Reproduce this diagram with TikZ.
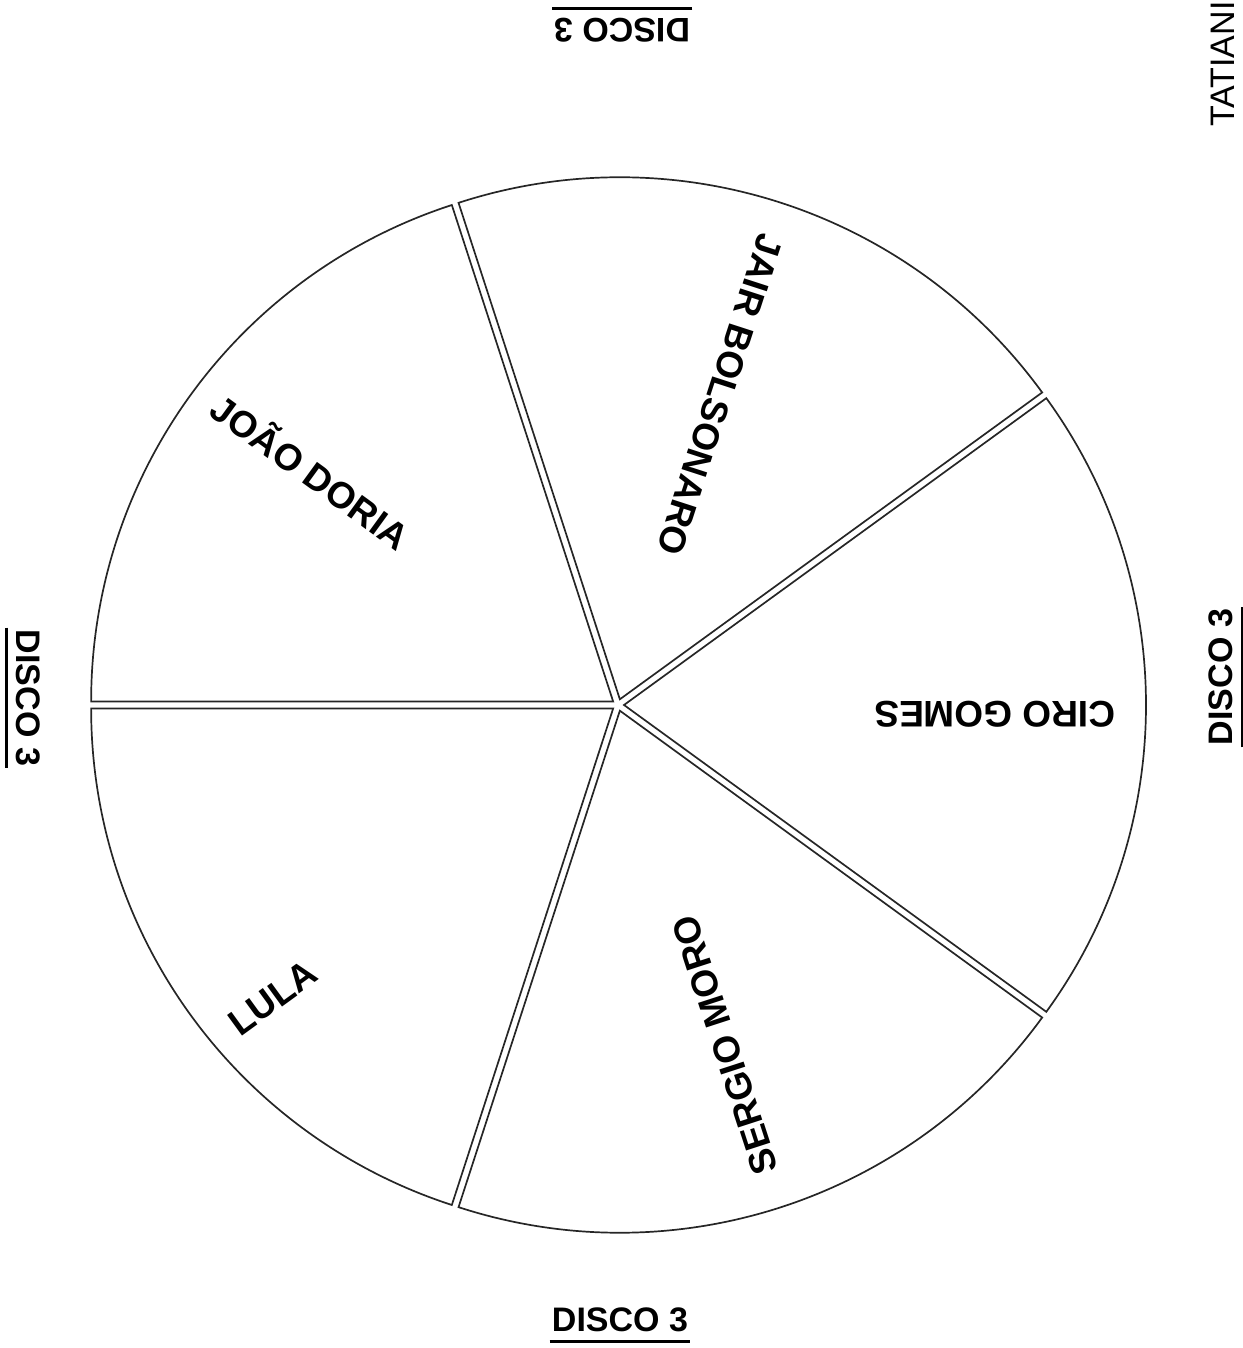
\documentclass[tikz,border=0pt]{standalone}
\usepackage{fontspec}
\setmainfont{Liberation Sans}
\usepackage{tikz}

\tikzset{
  fatia/.style={draw=black!85, line width=0.85pt},
  nome/.style={font=\fontsize{18.5}{20}\selectfont\bfseries, inner sep=0pt},
  disco/.style={font=\fontsize{17}{19}\selectfont\bfseries, inner xsep=1pt, inner ysep=4.5pt}
}

\begin{document}
\begin{tikzpicture}[x=0.5pt, y=0.5pt]
            \useasboundingbox (-618,-643) rectangle (624,705);

            % fatias da roleta
            \foreach \s in {-36,36,108,180,252}{
              \draw[fatia] ({\s+36}:6) -- ++(\s:522) arc[start angle=\s, end angle={\s+72}, radius=522] -- cycle;
            }

            % nomes
            \node[nome, rotate=-108] (jair) at (102,310) {JAIR BOLSONARO};
            \node[nome, rotate=180] (ciro) at (377,-9) {CIRO GOMES};
            \node[nome, rotate=108] (sergio) at (107,-340) {SERGIO MORO};
            \node[nome, rotate=36] (lula) at (-345,-293) {LULA};
            \node[nome, rotate=-36] (joao) at (-306,235) {JOÃO DORIA};

            % DISCO 3 nos quatro lados
            \node[disco] (d1) at (2,-615) {DISCO 3};
            \node[disco, rotate=180] (d2) at (4,675) {DISCO 3};
            \node[disco, rotate=90] (d3) at (603,28) {DISCO 3};
            \node[disco, rotate=-90] (d4) at (-590,7) {DISCO 3};
            \foreach \d in {d1,d2,d3,d4}
              \draw[line width=1.25pt] (\d.south west) -- (\d.south east);

            \node[font=\fontsize{17}{18}\selectfont, inner sep=0pt, rotate=90, anchor=east] (tat) at (605,704) {TATIANI};
        \end{tikzpicture}
\end{document}
